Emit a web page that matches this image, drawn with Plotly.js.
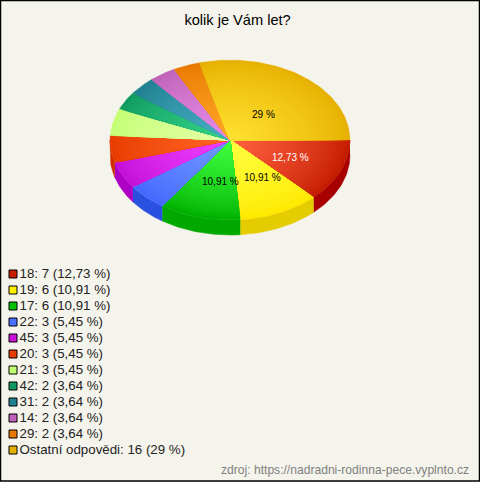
<!DOCTYPE html>
<html><head><meta charset="utf-8">
<script src="https://cdn.plot.ly/plotly-3.0.1.min.js"></script>
<style>html,body{margin:0;padding:0;background:#f5f4ec;overflow:hidden}</style>
</head><body><div id="chart" style="width:480px;height:482px"></div>
<script>
const categories = ['18','19','17','22','45','20','21','42','31','14','29','Ostatní odpovědi'];
const counts = [7,6,6,3,3,3,3,2,2,2,2,16];
const percentLabels = ['12,73','10,91','10,91','5,45','5,45','5,45','5,45','3,64','3,64','3,64','3,64','29'];
const rimColors = ['#c41c00','#ffe800','#00b000','#4468ff','#c410d8','#e83c00','#c4ff74','#109a60','#208090','#c062b8','#e87a00','#e6b000'];
const hubColors = ['#ff6040','#ffff40','#40ff40','#7098ff','#f040ff','#ff6424','#e4ffa8','#34d488','#48aec4','#e68ce8','#ffa628','#ffe030'];
const wallColors = ['#a80000','#e4cc00','#00a800','#2a50e0','#ac00c4','#d03000','#a0d060','#0c7a4c','#186070','#984c92','#ba6000','#b88c00'];
const legendColors = ['#c81e00','#ffee00','#00c000','#4a70ff','#c810d8','#e83c00','#c0ff70','#109860','#208090','#c060b8','#e87800','#e6b000'];
const sliceLabels = [
  {text:'12,73 %', x:290, y:157, color:'#ffffff'},
  {text:'10,91 %', x:262, y:177, color:'#000000'},
  {text:'10,91 %', x:220, y:181, color:'#000000'},
  {text:'29 %', x:263, y:114, color:'#000000'}
];

const cx=230, cy=140, rx=120, ry=80, depth=15, rings=36;
const total = counts.reduce((a,b)=>a+b,0);
function hex(c){return [1,3,5].map(i=>parseInt(c.substr(i,2),16));}
function mix(a,b,t){const A=hex(a),B=hex(b);return 'rgb('+A.map((v,i)=>Math.round(v+(B[i]-v)*t)).join(',')+')';}
function arc(a0,a1){const n=Math.max(2,Math.ceil((a1-a0)/0.02)),o=[];for(let i=0;i<=n;i++)o.push(a0+(a1-a0)*i/n);return o;}
const traces=[];
function poly(xs,ys,color,w){traces.push({type:'scatter',mode:'lines',x:xs,y:ys,fill:'toself',fillcolor:color,line:{color:color,width:w},hoverinfo:'skip',showlegend:false});}

let acc=0; const spans=counts.map(v=>{const a0=acc/total*2*Math.PI;acc+=v;return [a0,acc/total*2*Math.PI];});
// side walls
spans.forEach(([a0,a1],i)=>{
  const e=Math.min(a1,Math.PI); if(a0>=e) return;
  const pts=arc(a0,e);
  const xs=pts.map(a=>cx+rx*Math.cos(a)).concat(pts.slice().reverse().map(a=>cx+rx*Math.cos(a)));
  const ys=pts.map(a=>cy+ry*Math.sin(a)).concat(pts.slice().reverse().map(a=>cy+depth+ry*Math.sin(a)));
  poly(xs,ys,wallColors[i],0.5);
});
// top face: nested wedges give the radial shading
spans.forEach(([a0,a1],i)=>{
  for(let k=0;k<rings;k++){
    const s=1-k/rings, pts=arc(a0,a1);
    poly([cx].concat(pts.map(a=>cx+s*rx*Math.cos(a)),[cx]),
         [cy].concat(pts.map(a=>cy+s*ry*Math.sin(a)),[cy]),
         mix(rimColors[i],hubColors[i],Math.pow(k/(rings-1),0.75)),0.3);
  }
});
// legend
traces.push({type:'scatter',mode:'markers',
  x:categories.map(()=>13),y:categories.map((c,i)=>274+16*i),
  marker:{symbol:'square',size:8,color:legendColors,line:{color:'#000',width:1}},
  hoverinfo:'skip',showlegend:false,cliponaxis:false});
traces.push({type:'scatter',mode:'text',
  x:categories.map(()=>19.5),y:categories.map((c,i)=>274.6+16*i),
  text:categories.map((c,i)=>c+': '+counts[i]+' ('+percentLabels[i]+' %)'),
  textposition:'middle right',textfont:{family:'Liberation Sans',size:13.3,color:'#222222'},
  hoverinfo:'skip',showlegend:false,cliponaxis:false});

const annotations=sliceLabels.map(l=>({x:l.x,y:l.y,text:l.text,showarrow:false,xref:'x',yref:'y',
  font:{family:'Liberation Sans',size:10,color:l.color}}));
annotations.push({x:471,y:470,text:'zdroj: https://nadradni-rodinna-pece.vyplnto.cz',showarrow:false,xanchor:'right',xref:'x',yref:'y',
  font:{family:'Liberation Sans',size:12.1,color:'#808080'}});

Plotly.newPlot('chart',traces,{
  width:480,height:482,margin:{l:0,r:0,t:0,b:0},
  paper_bgcolor:'#f5f4ec',plot_bgcolor:'#f5f4ec',
  title:{text:'kolik je Vám let?',x:0.495,xanchor:'center',y:0.958,yanchor:'middle',font:{family:'Liberation Sans',size:14.6,color:'#000'}},
  xaxis:{range:[0,480],visible:false,fixedrange:true},
  yaxis:{range:[482,0],visible:false,fixedrange:true},
  annotations,
  shapes:[{type:'rect',xref:'x',yref:'y',x0:0.5,y0:0.5,x1:479.5,y1:481,line:{color:'#000',width:1.5},fillcolor:'rgba(0,0,0,0)'}]
},{displayModeBar:false,staticPlot:true});
</script></body></html>
